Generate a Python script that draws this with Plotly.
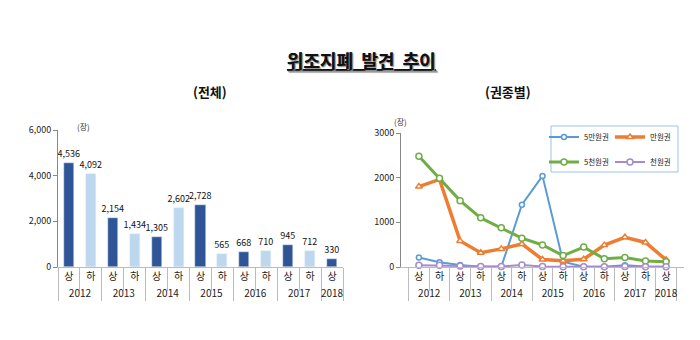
import plotly.graph_objects as go

years = ["2012", "2012", "2013", "2013", "2014", "2014", "2015", "2015",
         "2016", "2016", "2017", "2017", "2018"]
halves = ["상", "하", "상", "하", "상", "하", "상", "하", "상", "하", "상", "하", "상"]
total = [4536, 4092, 2154, 1434, 1305, 2602, 2728, 565, 668, 710, 945, 712, 330]

w50000 = [213, 107, 45, 5, 5, 1395, 2040, 120, 5, 5, 40, 10, 5]
w10000 = [1800, 1960, 584, 320, 405, 516, 168, 140, 175, 490, 665, 550, 160]
w5000 = [2480, 1985, 1486, 1100, 880, 645, 493, 255, 445, 185, 210, 135, 115]
w1000 = [40, 40, 25, 9, 10, 46, 12, 8, 8, 8, 10, 8, 8]

series = [
    ("5만원권", w50000, "#5B9BD5", 2, "circle", 5, "legend"),
    ("만원권", w10000, "#ED7D31", 3.5, "triangle-up", 6, "legend"),
    ("5천원권", w5000, "#70AD47", 3, "circle", 6, "legend2"),
    ("천원권", w1000, "#A58BC9", 2, "circle", 6, "legend2"),
]

bar_colors = ["#2F5597" if h == "상" else "#BDD7EE" for h in halves]

FONT = "Noto Sans CJK KR"
fig = go.Figure()

fig.add_trace(go.Bar(
    x=[years, halves], y=total, marker_color=bar_colors, width=0.46,
    texttemplate="%{y:,}", textposition="outside", constraintext="none",
    textfont=dict(size=9, color="#111"), cliponaxis=False,
    showlegend=False, xaxis="x", yaxis="y",
))

for name, vals, col, lw, sym, ms, lg in series:
    fig.add_trace(go.Scatter(
        x=[years, halves], y=vals, mode="lines+markers", name=name,
        line=dict(color=col, width=lw),
        marker=dict(symbol=sym, size=ms, color="white",
                    line=dict(color=col, width=1.5)),
        xaxis="x2", yaxis="y2", cliponaxis=False, legend=lg,
    ))

xcommon = dict(
    type="multicategory", showline=True, linecolor="#BBBBBB", linewidth=1,
    ticks="outside", tickson="boundaries", ticklen=23, tickcolor="#BBBBBB",
    showdividers=True, dividercolor="#BBBBBB", dividerwidth=1, tickangle=0,
    tickfont=dict(size=10, color="#222", family=FONT), showgrid=False,
    automargin=False,
)
ycommon = dict(
    showline=True, linecolor="#888888", linewidth=1, ticks="outside",
    ticklen=4, tickcolor="#888888", showgrid=False, zeroline=False,
    tickfont=dict(size=9, color="#222", family=FONT), automargin=False,
)

legcommon = dict(
    orientation="h", xanchor="left", yanchor="middle", entrywidth=21,
    bgcolor="rgba(0,0,0,0)", borderwidth=0, itemwidth=30,
    font=dict(size=7.5, family=FONT, color="#222"),
)

fig.update_layout(
    width=700, height=340,
    margin=dict(l=0, r=0, t=0, b=0, autoexpand=False),
    paper_bgcolor="white", plot_bgcolor="white",
    font=dict(family=FONT, color="#111"),
    bargap=0,
    xaxis=dict(domain=[58 / 700, 343 / 700], anchor="y", **xcommon),
    yaxis=dict(domain=[(340 - 267) / 340, (340 - 130) / 340], anchor="x",
               range=[0, 6000], tickvals=[0, 2000, 4000, 6000],
               tickformat=",", **ycommon),
    xaxis2=dict(domain=[401 / 700, 684 / 700], anchor="y2", **xcommon),
    yaxis2=dict(domain=[(340 - 267) / 340, (340 - 133) / 340], anchor="x2",
                range=[0, 3000], tickvals=[0, 1000, 2000, 3000],
                tickformat="d", **ycommon),
    legend=dict(x=544 / 700, y=(340 - 137) / 340, **legcommon),
    legend2=dict(x=544 / 700, y=(340 - 162) / 340, **legcommon),
    shapes=[dict(type="rect", xref="paper", yref="paper",
                 x0=551 / 700, x1=678 / 700,
                 y0=(340 - 172) / 340, y1=(340 - 126) / 340,
                 line=dict(color="#9DC3E6", width=1), fillcolor="white",
                 layer="below")],
    annotations=[
        dict(text="위조지폐 &nbsp;발견 &nbsp;추이", x=361 / 700, y=(340 - 45) / 340,
             xref="paper", yref="paper", showarrow=False,
             font=dict(size=18, family=FONT, color="#111", weight="bold",
                       lineposition="under", shadow="1px 1px 1px #999")),
        dict(text="<b>(전체)</b>", x=191 / 700, y=(340 - 80) / 340,
             xref="paper", yref="paper", showarrow=False,
             font=dict(size=13, family=FONT, color="#111")),
        dict(text="<b>(권종별)</b>", x=533 / 700, y=(340 - 80) / 340,
             xref="paper", yref="paper", showarrow=False,
             font=dict(size=13, family=FONT, color="#111")),
        dict(text="(장)", x=75 / 700, y=(340 - 126) / 340,
             xref="paper", yref="paper", showarrow=False,
             font=dict(size=8, family=FONT, color="#333")),
        dict(text="(장)", x=400 / 700, y=(340 - 122) / 340,
             xref="paper", yref="paper", showarrow=False,
             font=dict(size=8, family=FONT, color="#333")),
    ],
)

fig.write_html("out.html")
